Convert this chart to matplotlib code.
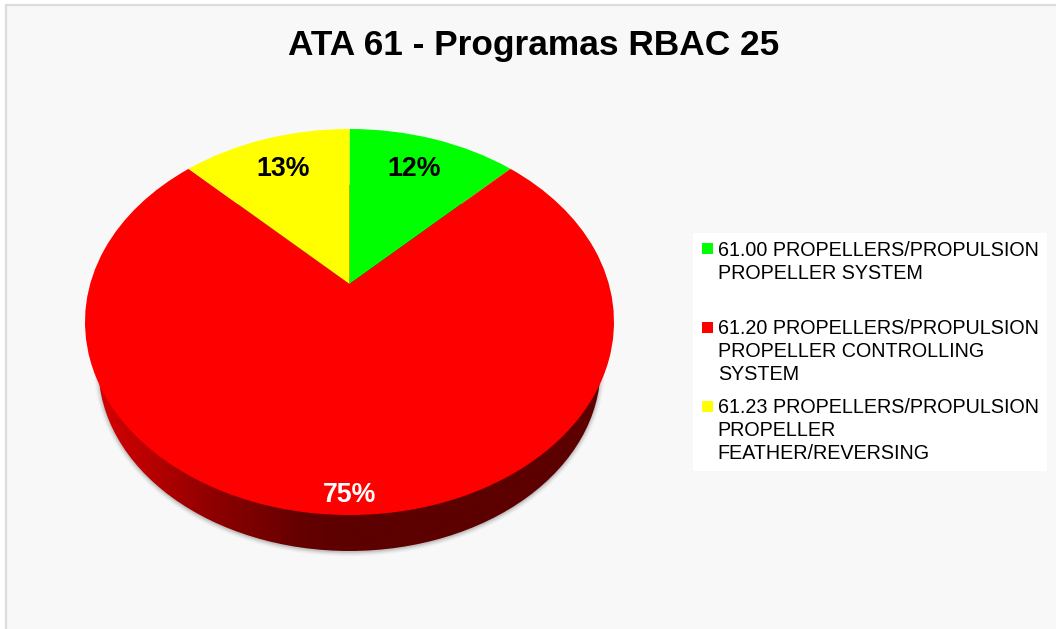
import numpy as np
import matplotlib
matplotlib.use("Agg")
import matplotlib.pyplot as plt
from matplotlib.patches import Ellipse, Rectangle
from matplotlib.transforms import Transform, Affine2D
from matplotlib.colors import LinearSegmentedColormap
from matplotlib.legend_handler import HandlerPatch

plt.rcParams['font.family'] = ['Liberation Sans', 'DejaVu Sans']

title = "ATA 61 - Programas RBAC 25"
categories = ["61.00 PROPELLERS/PROPULSION\nPROPELLER SYSTEM\n",
              "61.20 PROPELLERS/PROPULSION\nPROPELLER CONTROLLING\nSYSTEM",
              "61.23 PROPELLERS/PROPULSION\nPROPELLER\nFEATHER/REVERSING"]
shares = [12.5, 75.0, 12.5]
pct_labels = ["12%", "75%", "13%"]
colors = ["#00ff00", "#ff0000", "#ffff00"]

W, H = 1056, 629
CX, CY, RX, RY = 349.5, 322.0, 264.5, 193.0
PERSP = 0.197


class Perspective(Transform):
    input_dims = output_dims = 2
    is_affine = False
    has_inverse = False

    def __init__(self, a):
        super().__init__()
        self.a = a

    def transform_non_affine(self, values):
        v = np.asarray(values, float)
        w = 1 + self.a * v[:, 1]
        return np.column_stack((v[:, 0] * np.sqrt(1 - self.a ** 2) / w,
                                (v[:, 1] + self.a) / w))


fig = plt.figure(figsize=(W / 100, H / 100), dpi=100, facecolor="white")
ax = fig.add_axes([0, 0, 1, 1])

wedges, _ = ax.pie(shares, colors=colors, startangle=90, counterclock=False,
                   wedgeprops=dict(linewidth=0))
ax.set_aspect("auto")
ax.set_xlim(0, W)
ax.set_ylim(H, 0)
ax.axis("off")

# panel
ax.add_patch(Rectangle((5.5, 4.5), W + 20, H + 20, facecolor="#f8f8f8",
                       edgecolor="#dcdcdc", linewidth=1.6, zorder=0))

# pie side
BX, BY, BRX, BRY = 349.5, 368.0, 251.0, 183.0
for grow, alpha in zip((9, 7, 5, 3, 1), (0.02, 0.03, 0.04, 0.06, 0.08)):
    ax.add_patch(Ellipse((BX, BY + 1), 2 * BRX + grow, 2 * BRY + grow,
                         facecolor="black", edgecolor="none", alpha=alpha, zorder=1))
side_cmap = LinearSegmentedColormap.from_list(
    "side", [(0, "#d40000"), (0.1, "#b80000"), (0.22, "#900000"),
             (0.4, "#640000"), (0.5, "#5c0000"), (1, "#5c0000")])
grad = np.linspace(0, 1, 512).reshape(1, -1)
im = ax.imshow(grad, cmap=side_cmap, extent=(BX - BRX, BX + BRX, BY + BRY, BY - BRY),
               aspect="auto", zorder=2, interpolation="bilinear")
clip = Ellipse((BX, BY), 2 * BRX, 2 * BRY, transform=ax.transData)
im.set_clip_path(clip)
ax.set_xlim(0, W)
ax.set_ylim(H, 0)

# pie top
to_px = Perspective(PERSP) + Affine2D().scale(RX, -RY).translate(CX, CY) + ax.transData
for w in wedges:
    w.set_transform(to_px)
    w.set_zorder(3)
    w.set_clip_on(False)

ax.text(414.5, 169, pct_labels[0], fontsize=19.3, fontweight="bold", color="black",
        ha="center", va="center", zorder=5)
ax.text(349.5, 495, pct_labels[1], fontsize=19.3, fontweight="bold", color="white",
        ha="center", va="center", zorder=5)
ax.text(283.5, 169, pct_labels[2], fontsize=19.3, fontweight="bold", color="black",
        ha="center", va="center", zorder=5)

ax.text(534, 45.5, title, fontsize=25.4, fontweight="bold", color="black",
        ha="center", va="center", zorder=5)


def top_swatch(legend, orig_handle, xdescent, ydescent, width, height, fontsize):
    s = 0.55 * fontsize
    return Rectangle((width - s - 1.7 - xdescent, -ydescent + 1.33 * fontsize), s, s)


leg = ax.legend(wedges, categories, loc="upper left",
                bbox_to_anchor=(693, 232.5), bbox_transform=ax.transData,
                fontsize=14.2, frameon=True, facecolor="white", edgecolor="none",
                framealpha=1, fancybox=False, borderaxespad=0, borderpad=0.42,
                labelspacing=0.72, handlelength=0.72, handletextpad=0.12,
                handler_map={w: HandlerPatch(patch_func=top_swatch) for w in wedges})
for t in leg.get_texts():
    t.set_linespacing(1.25)
leg.set_zorder(4)

fig.savefig("out.png", dpi=100)
